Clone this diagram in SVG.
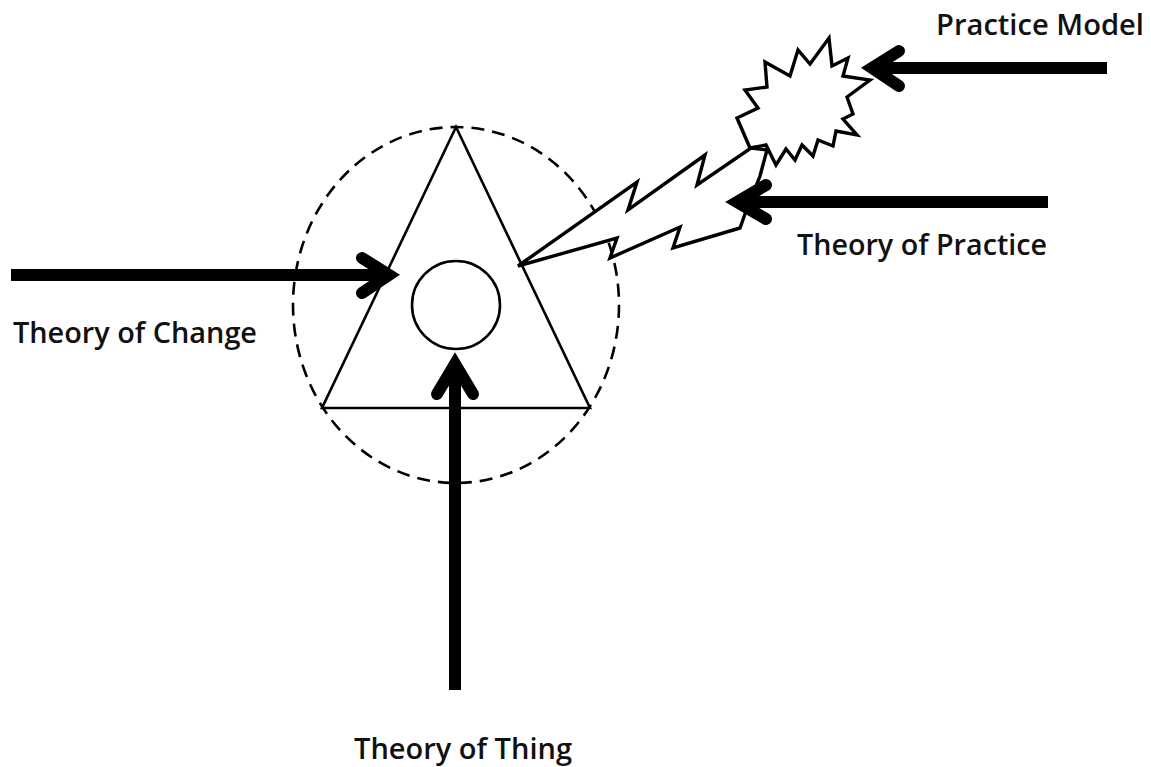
<svg xmlns="http://www.w3.org/2000/svg" width="1151" height="767" viewBox="0 0 1151 767">
  <style>
    .thin { fill: none; stroke: #000; stroke-width: 2.6; stroke-linejoin: miter; }
    .dash { fill: none; stroke: #000; stroke-width: 2.6; stroke-dasharray: 13 8; }
    .shape { fill: #fff; stroke: #000; stroke-width: 3.4; stroke-linejoin: miter; }
    .shaft { fill: none; stroke: #000; stroke-width: 12; stroke-linecap: butt; }
    .head { fill: none; stroke: #000; stroke-width: 12; stroke-linecap: round; stroke-linejoin: miter; stroke-miterlimit: 6; }
    .label { font-family: "Open Sans", "Liberation Sans", sans-serif; font-weight: 600; font-size: 28px; fill: #111; }
  </style>
  <rect x="0" y="0" width="1151" height="767" fill="#fff"/>

  <g id="theory-system">
    <ellipse cx="456" cy="305" rx="163" ry="178" class="dash"/>
    <polygon points="456,127 322,408 590,408" class="thin"/>
    <circle cx="456" cy="305" r="44" class="thin"/>
  </g>

  <g id="lightning-bolt">
    <polygon class="shape" points="518,266 637,182 628,210 705,155 697,185 751,148 767,150 760,176 745,214 740,228 673,248 680,227 610,258 617,238"/>
  </g>

  <g id="explosion">
    <polygon class="shape" points="765,62 790,76 798,50 810,64 829,38 832,66 848,58 843,76 870,80 847,97 853,114 843,119 857,135 836,131 833,146 818,140 813,156 802,145 795,160 786,149 776,165 766,145 750,148 737,118 758,108 745,90 767,87"/>
  </g>

  <g id="connectors">
    <g id="arrow-change">
      <line x1="11" y1="275" x2="388" y2="275" class="shaft"/>
      <polyline points="362,258 389,275 362,293" class="head"/>
    </g>
    <g id="arrow-thing">
      <line x1="455" y1="690" x2="455" y2="366" class="shaft"/>
      <polyline points="437,394 455,364 473,394" class="head"/>
    </g>
    <g id="arrow-practice-model">
      <line x1="1107" y1="68" x2="874" y2="68" class="shaft"/>
      <polyline points="899,51 872,68 899,86" class="head"/>
    </g>
    <g id="arrow-practice">
      <line x1="1048" y1="202" x2="740" y2="202" class="shaft"/>
      <polyline points="766,185 737,202 766,219" class="head"/>
    </g>
  </g>

  <g id="labels">
    <text class="label" x="936" y="35" textLength="208" lengthAdjust="spacingAndGlyphs">Practice Model</text>
    <text class="label" x="797" y="255" textLength="250" lengthAdjust="spacingAndGlyphs">Theory of Practice</text>
    <text class="label" x="13" y="343" textLength="244" lengthAdjust="spacingAndGlyphs">Theory of Change</text>
    <text class="label" x="354" y="759" textLength="218" lengthAdjust="spacingAndGlyphs">Theory of Thing</text>
  </g>
</svg>
